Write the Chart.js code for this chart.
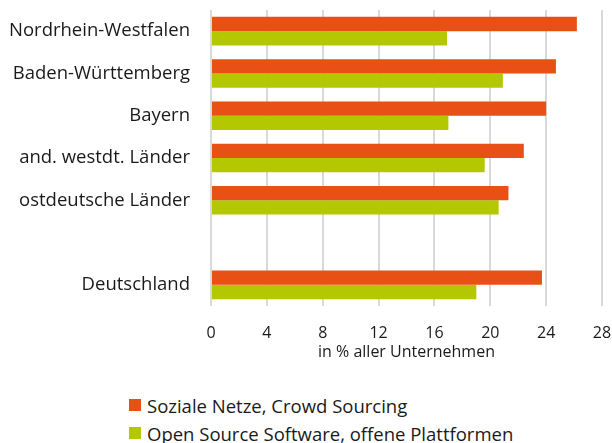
<!DOCTYPE html>
<html>
<head>
<meta charset="utf-8">
<script src="https://cdn.jsdelivr.net/npm/chart.js@4.4.0/dist/chart.umd.min.js"></script>
<style>
  body { margin: 0; background: #fff; }
  #wrap { position: relative; width: 612px; height: 443px; }
  #box { position: absolute; left: 0; top: 0; width: 612px; height: 366px; }
  #legende { position: absolute; left: 129px; top: 391px; font-family: "Open Sans", sans-serif; font-size: 18.5px; color: #1a1a1a; }
  #legende div { height: 28px; display: flex; align-items: center; white-space: nowrap; }
  #legende span { display: inline-block; width: 12px; height: 12px; margin-right: 6px; }
</style>
</head>
<body>
<div id="wrap">
  <div id="box"><canvas id="myChart"></canvas></div>
  <div id="legende"></div>
</div>
<script>
const laender = ["Nordrhein-Westfalen", "Baden-Württemberg", "Bayern", "and. westdt. Länder", "ostdeutsche Länder", "", "Deutschland"];
const sozialeNetze = [26.2, 24.7, 24.0, 22.4, 21.3, null, 23.7];
const openSource = [16.9, 20.9, 17.0, 19.6, 20.6, null, 19.0];
const xTicks = [0, 4, 8, 12, 16, 20, 24, 28];

const ctx = document.getElementById("myChart");
const schrift = "'Open Sans', sans-serif";

const myChart = new Chart(ctx, {
  type: "bar",
  data: {
    labels: laender,
    datasets: [
      {
        label: "Soziale Netze, Crowd Sourcing",
        data: sozialeNetze,
        backgroundColor: "#E85015",
      },
      {
        label: "Open Source Software, offene Plattformen",
        data: openSource,
        backgroundColor: "#B3C800",
      },
    ],
  },
  options: {
    indexAxis: "y",
    responsive: true,
    maintainAspectRatio: false,
    animation: false,
    layout: { padding: { top: 10, right: 0, left: 0, bottom: 0 } },
    datasets: { bar: { categoryPercentage: 0.675, barPercentage: 1.0 } },
    plugins: {
      legend: { display: false },
      tooltip: { enabled: false },
    },
    scales: {
      x: {
        min: 0,
        max: 28,
        afterBuildTicks: (scale) => { scale.ticks = xTicks.map((v) => ({ value: v })); },
        grid: { color: "#d9d9d9", lineWidth: 2, drawTicks: false },
        border: { display: false },
        ticks: { padding: 18, color: "#1a1a1a", maxRotation: 0, font: { family: schrift, size: 16 } },
        title: {
          display: true,
          text: "in % aller Unternehmen",
          color: "#1a1a1a",
          padding: { top: 2, bottom: 4 },
          font: { family: schrift, size: 16 },
        },
        afterFit: (scale) => {
          scale.height = 60;
          scale.paddingLeft = 0;
          scale.paddingRight = 10;
        },
      },
      y: {
        grid: { display: false, drawTicks: false },
        border: { display: false },
        ticks: { padding: 21, color: "#1a1a1a", autoSkip: false, font: { family: schrift, size: 18.5 } },
        afterFit: (scale) => {
          scale.width = 211;
          scale.paddingTop = 0;
          scale.paddingBottom = 0;
        },
      },
    },
  },
});

// Legende aus den Datensaetzen
const legende = document.getElementById("legende");
myChart.data.datasets.forEach((ds) => {
  legende.innerHTML += `<div><span style="background:${ds.backgroundColor}"></span>${ds.label}</div>`;
});
</script>
</body>
</html>
